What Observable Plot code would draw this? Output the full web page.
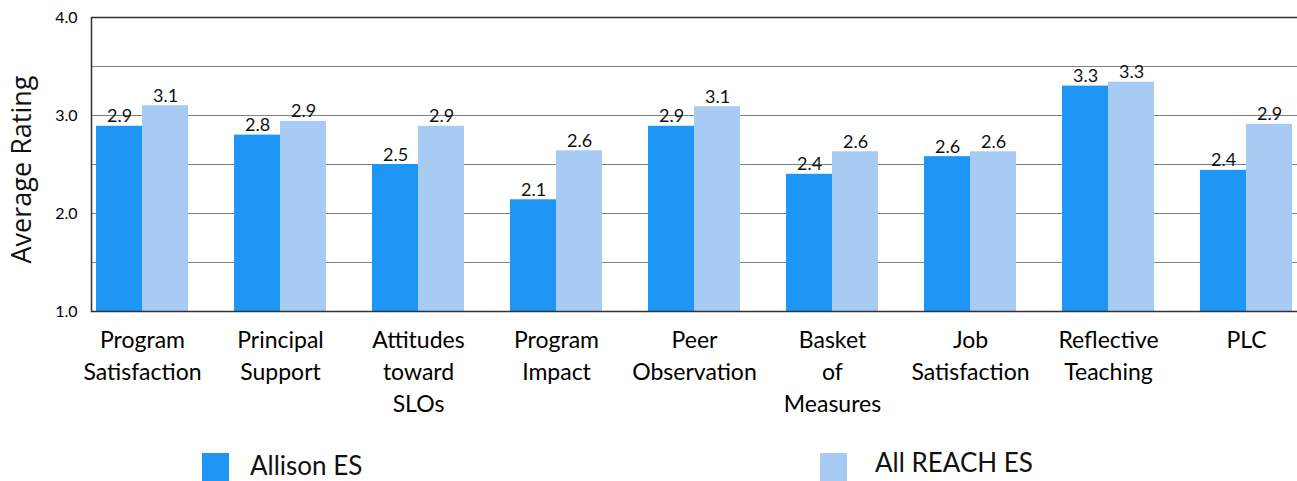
<!DOCTYPE html>
<html><head><meta charset="utf-8">
<script src="https://cdn.jsdelivr.net/npm/d3@7"></script>
<script src="https://cdn.jsdelivr.net/npm/@observablehq/plot@0.6"></script>
<style>
body{margin:0;background:#fff;font-family:Lato,sans-serif;overflow:hidden}
#legend{position:relative;height:51px;width:1297px}
.sw{position:absolute;width:27px;height:28px}
.lt{position:absolute;font-size:26px;color:#111;white-space:nowrap;line-height:0.85}
</style></head><body>
<div id="chart"></div>
<div id="legend"></div>
<script>
const categories = ["Program\nSatisfaction","Principal\nSupport","Attitudes\ntoward\nSLOs","Program\nImpact","Peer\nObservation","Basket\nof\nMeasures","Job\nSatisfaction","Reflective\nTeaching","PLC"];
const allison = [2.89, 2.80, 2.50, 2.14, 2.89, 2.40, 2.58, 3.30, 2.44];
const reach   = [3.10, 2.94, 2.89, 2.64, 3.09, 2.63, 2.63, 3.34, 2.91];
const seriesNames = ["Allison ES", "All REACH ES"];
const colors = ["#1E96F5", "#A8CBF4"];
const yTicks = [1, 2, 3, 4];
const gridValues = [1.5, 2, 2.5, 3, 3.5];
const yLabel = "Average Rating";

const rows = categories.map((c, i) => ({category: c, allison: allison[i], reach: reach[i]}));
const fmt = d3.format(".1f");

const plot = Plot.plot({
  width: 1297, height: 430,
  marginLeft: 91, marginRight: 0, marginTop: 17, marginBottom: 119,
  style: {fontFamily: "Lato, sans-serif", color: "#000", background: "#fff"},
  x: {domain: categories, range: [73, 1315], padding: 0, label: null},
  y: {domain: [1, 4], label: null},
  marks: [
    Plot.ruleY(gridValues, {stroke: "#808080", strokeWidth: 1}),
    Plot.barY(rows, {x: "category", y1: 1, y2: "allison", fill: colors[0], insetLeft: 23, insetRight: 69}),
    Plot.barY(rows, {x: "category", y1: 1, y2: "reach", fill: colors[1], insetLeft: 69, insetRight: 23}),
    Plot.text(rows, {x: "category", y: "allison", text: d => fmt(d.allison), dx: -23, dy: -4, lineAnchor: "bottom", fontSize: 18, fill: "#111"}),
    Plot.text(rows, {x: "category", y: "reach", text: d => fmt(d.reach), dx: 23, dy: -4, lineAnchor: "bottom", fontSize: 18, fill: "#111"}),
    Plot.frame({stroke: "#333", strokeWidth: 1.5, insetRight: -20}),
    Plot.axisY({ticks: yTicks, tickFormat: fmt, tickSize: 0, tickPadding: 14, fontSize: 16, label: null}),
    Plot.text([yLabel], {text: d => d, frameAnchor: "left", textAnchor: "middle", lineAnchor: "middle", rotate: -90, dx: -69, dy: 5, fontSize: 27, fontFamily: "Open Sans, sans-serif", fill: "#111"}),
    Plot.axisX({tickSize: 0, tickPadding: 14, fontSize: 23, lineHeight: 1.39, label: null})
  ]
});
document.getElementById("chart").appendChild(plot);

const legend = document.getElementById("legend");
const legendPos = [{sx: 202, sy: 23, tx: 250, ty: 24}, {sx: 820, sy: 23, tx: 875, ty: 21}];
seriesNames.forEach((name, i) => {
  const sw = document.createElement("div");
  sw.className = "sw";
  sw.style.left = legendPos[i].sx + "px";
  sw.style.top = legendPos[i].sy + "px";
  sw.style.background = colors[i];
  legend.appendChild(sw);
  const t = document.createElement("div");
  t.className = "lt";
  t.style.left = legendPos[i].tx + "px";
  t.style.top = legendPos[i].ty + "px";
  t.textContent = name;
  legend.appendChild(t);
});
</script>
</body></html>
